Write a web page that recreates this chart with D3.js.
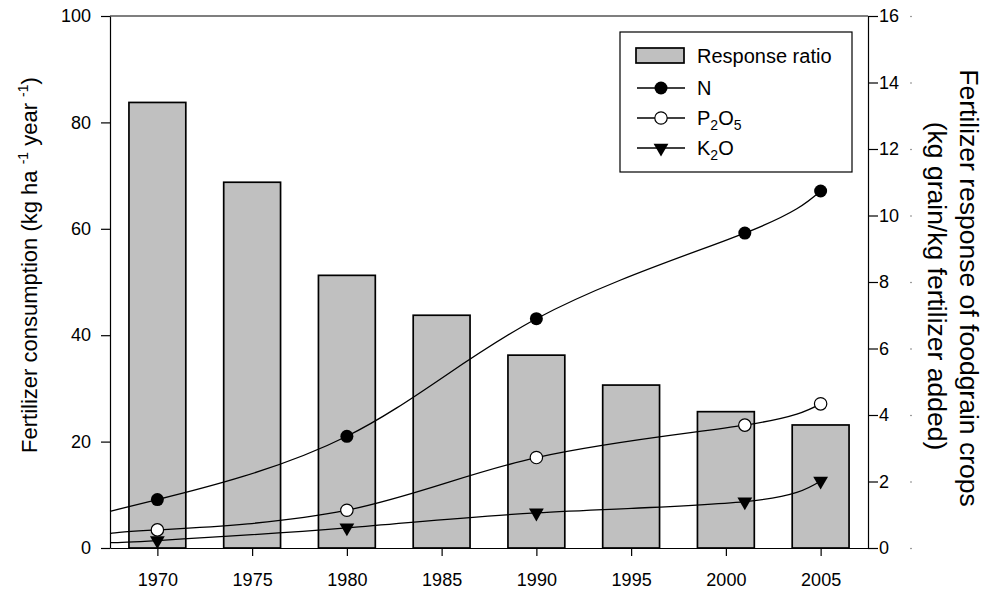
<!DOCTYPE html>
<html lang="en">
<head>
  <meta charset="UTF-8">
  <title>Fertilizer consumption and response ratio</title>
  <script src="https://d3js.org/d3.v7.min.js"></script>
  <style>
    body {
      margin: 0;
      background: #fff;
      font-family: 'Liberation Sans', Arial, sans-serif;
    }
    svg { display: block; }
    .axis text { font-size: 18px; fill: #000; font-family: 'Liberation Sans', Arial, sans-serif; }
    .axis path, .axis line { stroke: #000; stroke-width: 1.2; }
    .title { font-size: 22px; fill: #000; }
    .title.right { font-size: 26.5px; }
    .legend text { font-size: 20px; fill: #000; }
  </style>
</head>
<body>

<svg width="987" height="593"></svg>

<script>
// bars: response ratio (right axis)
const barYears = [1970, 1975, 1980, 1985, 1990, 1995, 2000, 2005];
const responseRatio = [13.4, 11.0, 8.2, 7.0, 5.8, 4.9, 4.1, 3.7];

// fertilizer consumption (left axis)
const pointYears = [1970, 1980, 1990, 2001, 2005];
const nValues = [9.1, 21.0, 43.1, 59.2, 67.1];
const p2o5Values = [3.4, 7.1, 17.0, 23.1, 27.1];
const k2oValues = [1.4, 3.8, 6.6, 8.7, 12.6];

// where each fitted curve meets the left axis
const curveStartYear = 1967.5;
const nStart = 6.9, p2o5Start = 2.7, k2oStart = 1.0;

const xTicks = [1970, 1975, 1980, 1985, 1990, 1995, 2000, 2005];
const leftTicks = [0, 20, 40, 60, 80, 100];
const rightTicks = [0, 2, 4, 6, 8, 10, 12, 14, 16];

const svg = d3.select("svg"),
      margin = {top: 16, right: 119, bottom: 45, left: 110},
      width = +svg.attr("width") - margin.left - margin.right,
      height = +svg.attr("height") - margin.top - margin.bottom,
      g = svg.append("g").attr("transform", `translate(${margin.left},${margin.top})`);

const x = d3.scaleLinear().domain([1967.5, 2007.5]).range([0, width]);
const yL = d3.scaleLinear().domain([0, 100]).range([height, 0]);
const yR = d3.scaleLinear().domain([0, 16]).range([height, 0]);

// bars
g.selectAll("rect.bar")
  .data(barYears.map((yr, i) => ({ yr, v: responseRatio[i] })))
  .join("rect")
  .attr("class", "bar")
  .attr("x", d => x(d.yr - 1.5))
  .attr("width", x(1.5) - x(-1.5))
  .attr("y", d => yR(d.v))
  .attr("height", d => height - yR(d.v))
  .attr("fill", "#c0c0c0")
  .attr("stroke", "#000")
  .attr("stroke-width", 1.7);

// curves
const line = d3.line()
  .curve(d3.curveNatural)
  .x(d => x(d[0]))
  .y(d => yL(d[1]));

const series = [
  { key: "N", start: nStart, values: nValues },
  { key: "P", start: p2o5Start, values: p2o5Values },
  { key: "K", start: k2oStart, values: k2oValues }
];

series.forEach(s => {
  const pts = [[curveStartYear, s.start]].concat(pointYears.map((yr, i) => [yr, s.values[i]]));
  g.append("path")
    .datum(pts)
    .attr("fill", "none")
    .attr("stroke", "#000")
    .attr("stroke-width", 1.3)
    .attr("d", line);
});

const tri = d3.symbol().type(d3.symbolTriangle).size(95);

function marker(sel, key) {
  if (key === "N") {
    sel.append("circle").attr("r", 6.5).attr("fill", "#000");
  } else if (key === "P") {
    sel.append("circle").attr("r", 6.2).attr("fill", "#fff")
      .attr("stroke", "#000").attr("stroke-width", 1.2);
  } else {
    sel.append("path").attr("d", tri).attr("transform", "rotate(180)").attr("fill", "#000");
  }
}

series.forEach(s => {
  pointYears.forEach((yr, i) => {
    const m = g.append("g")
      .attr("transform", `translate(${x(yr)},${yL(s.values[i])})`);
    marker(m, s.key);
  });
});

// axes
g.append("g")
  .attr("class", "axis")
  .attr("transform", `translate(0,${height})`)
  .call(d3.axisBottom(x).tickValues(xTicks).tickFormat(d3.format("d"))
    .tickSizeInner(8).tickSizeOuter(0).tickPadding(17));

g.append("g")
  .attr("class", "axis")
  .call(d3.axisLeft(yL).tickValues(leftTicks).tickSizeInner(9).tickSizeOuter(0).tickPadding(10));

const rAxis = g.append("g")
  .attr("class", "axis")
  .attr("transform", `translate(${width},0)`)
  .call(d3.axisRight(yR).tickValues(rightTicks).tickSizeInner(10).tickSizeOuter(0).tickPadding(1));

// small dots after right tick labels
rAxis.selectAll(".tick").append("circle")
  .attr("cx", 43).attr("cy", 0).attr("r", 0.8).attr("fill", "#777");

// top frame
g.append("line")
  .attr("x1", 0).attr("x2", width).attr("y1", 0).attr("y2", 0)
  .attr("stroke", "#000").attr("stroke-width", 1.2);

// axis titles
const leftTitle = svg.append("text")
  .attr("class", "title")
  .attr("text-anchor", "middle")
  .attr("transform", `translate(37,265) rotate(-90)`);
leftTitle.append("tspan").text("Fertilizer consumption (kg ha ");
leftTitle.append("tspan").attr("font-size", "14px").attr("dy", -9).text("-1");
leftTitle.append("tspan").attr("dy", 9).text(" year ");
leftTitle.append("tspan").attr("font-size", "14px").attr("dy", -9).text("-1");
leftTitle.append("tspan").attr("dy", 9).text(")");

svg.append("text")
  .attr("class", "title right")
  .attr("text-anchor", "middle")
  .attr("transform", `translate(960,288) rotate(90)`)
  .text("Fertilizer response of foodgrain crops");

svg.append("text")
  .attr("class", "title right")
  .attr("text-anchor", "middle")
  .attr("transform", `translate(928,286) rotate(90)`)
  .text("(kg grain/kg fertilizer added)");

// legend
const legend = svg.append("g").attr("class", "legend");

legend.append("rect")
  .attr("x", 620).attr("y", 32).attr("width", 232).attr("height", 140)
  .attr("fill", "#fff").attr("stroke", "#000").attr("stroke-width", 1.2);

legend.append("rect")
  .attr("x", 636).attr("y", 48).attr("width", 48).attr("height", 15)
  .attr("fill", "#c0c0c0").attr("stroke", "#000").attr("stroke-width", 1.7);

legend.append("text").attr("x", 697).attr("y", 63).text("Response ratio");

const legendRows = [
  { key: "N", y: 88 },
  { key: "P", y: 118 },
  { key: "K", y: 148 }
];

legendRows.forEach(r => {
  legend.append("line")
    .attr("x1", 637).attr("x2", 685).attr("y1", r.y).attr("y2", r.y)
    .attr("stroke", "#000").attr("stroke-width", 1.3);
  marker(legend.append("g").attr("transform", `translate(661,${r.y})`), r.key);
});

legend.append("text").attr("x", 697).attr("y", 95).text("N");

const pText = legend.append("text").attr("x", 697).attr("y", 125);
pText.append("tspan").text("P");
pText.append("tspan").attr("font-size", "14px").attr("dy", 5).text("2");
pText.append("tspan").attr("dy", -5).text("O");
pText.append("tspan").attr("font-size", "14px").attr("dy", 5).text("5");

const kText = legend.append("text").attr("x", 697).attr("y", 155);
kText.append("tspan").text("K");
kText.append("tspan").attr("font-size", "14px").attr("dy", 5).text("2");
kText.append("tspan").attr("dy", -5).text("O");
</script>

</body>
</html>
